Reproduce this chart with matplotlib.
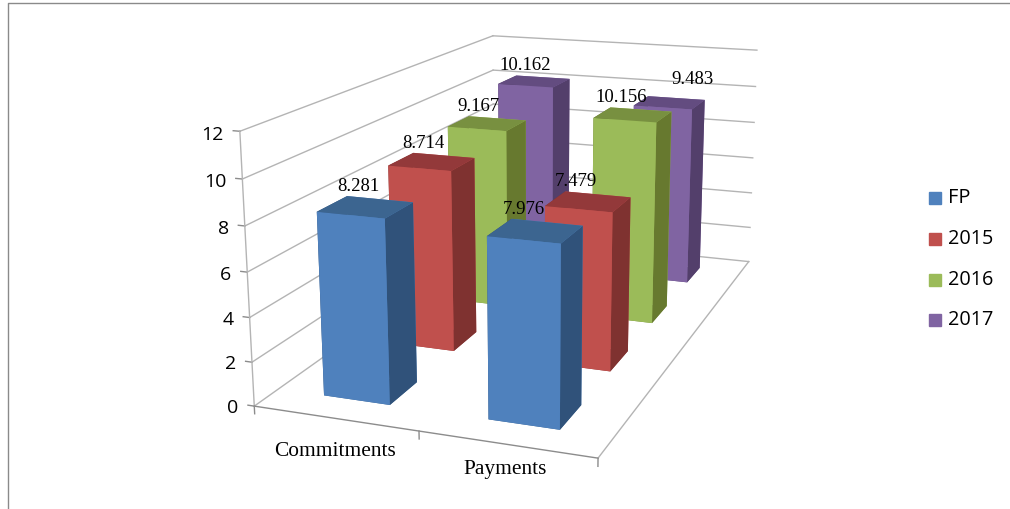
import matplotlib
matplotlib.use('Agg')
import matplotlib.pyplot as plt
from matplotlib.patches import Rectangle

groups = ['Commitments', 'Payments']
series = ['FP', '2015', '2016', '2017']
commitments = [8.281, 8.714, 9.167, 10.162]
payments = [7.976, 7.479, 10.156, 9.483]
labels_c = ['8.281', '8.714', '9.167', '10.162']
labels_p = ['7.976', '7.479', '10.156', '9.483']
zticks = [0, 2, 4, 6, 8, 10, 12]

# colours of the front, side and top face of each series
front = ['#4f81bd', '#c0504d', '#9bbb59', '#8064a2']
side = ['#30527a', '#7f3230', '#67792f', '#533f6b']
top = ['#3c6590', '#93393a', '#789040', '#634c80']
legend_y = [198, 239, 280, 320]
group_z = [-1.45, -1.05]

SERIF = 'Liberation Serif'
SANS = 'Open Sans'
WALL = '#b4b4b4'
AXIS = '#8c8c8c'

fig = plt.figure(figsize=(10.10, 5.10), dpi=100)
ax = fig.add_axes([0.022, -0.024, 1.0, 1.2], projection='3d', computed_zorder=False)
ax.set_proj_type('persp', focal_length=0.45)
ax.view_init(elev=15, azim=-70, roll=0)
ax.set_box_aspect((1.13, 2.05, 0.88), zoom=1.115)
ax.set_xlim(0, 2)
ax.set_ylim(0, 4)
ax.set_zlim(0, 12)
ax.set_axis_off()

# walls and floor
for z in zticks:
    ax.plot([0, 0], [0, 4], [z, z], color=WALL, lw=1, zorder=1)
    ax.plot([0, 2], [4, 4], [z, z], color=WALL, lw=1, zorder=1)
    ax.plot([-0.04, 0], [0, 0], [z, z], color=AXIS, lw=1, zorder=1)
    ax.text(-0.1, 0, z - 0.15, str(z), family=SANS, fontsize=14, ha='right', va='center', zorder=30)
ax.plot([0, 0], [0, 0], [0, 12], color=WALL, lw=1, zorder=1)
ax.plot([0, 2], [0, 0], [0, 0], color=AXIS, lw=1, zorder=1)
ax.plot([2, 2], [0, 4], [0, 0], color=WALL, lw=1, zorder=1)
for x in [0, 1, 2]:
    ax.plot([x, x], [0, 0], [0, -0.35], color=AXIS, lw=1, zorder=1)

# bars, back row first
order = 2
for j in range(3, -1, -1):
    for i, vals in enumerate([commitments, payments]):
        faces = [top[j], top[j], front[j], front[j], side[j], side[j]]
        ax.bar3d(i + 0.29, j + 0.3, 0, 0.41, 0.4, vals[j], color=faces, shade=False, zorder=order)
        order += 1

for j in range(4):
    for i, vals in enumerate([commitments, payments]):
        txt = [labels_c, labels_p][i][j]
        # the 9.483 label sits further right and higher in the original
        dx, dz = (0.25, 0.5) if txt == '9.483' else (0, 0)
        ax.text(i + 0.36 + dx, j + 0.7, vals[j] + 0.15 + dz, txt, family=SERIF, fontsize=13.5,
                ha='center', va='bottom', zorder=31)

for i, g in enumerate(groups):
    ax.text(i + 0.49, 0, group_z[i], g, family=SERIF, fontsize=15.4, ha='center', va='center', zorder=31)

# legend
for s, c, y in zip(series, front, legend_y):
    fig.add_artist(Rectangle((929 / 1010, 1 - (y + 7) / 510), 12 / 1010, 12 / 510,
                             transform=fig.transFigure, color=c))
    fig.text(948 / 1010, 1 - y / 510, s, fontsize=14.3, family=SANS, va='center')

# frame on the top and left edge
fig.add_artist(plt.Line2D([7.5 / 1010, 7.5 / 1010, 1], [0, 1 - 3.5 / 510, 1 - 3.5 / 510],
                          color='#8a8a8a', lw=1))

fig.savefig('out.png', dpi=100)
